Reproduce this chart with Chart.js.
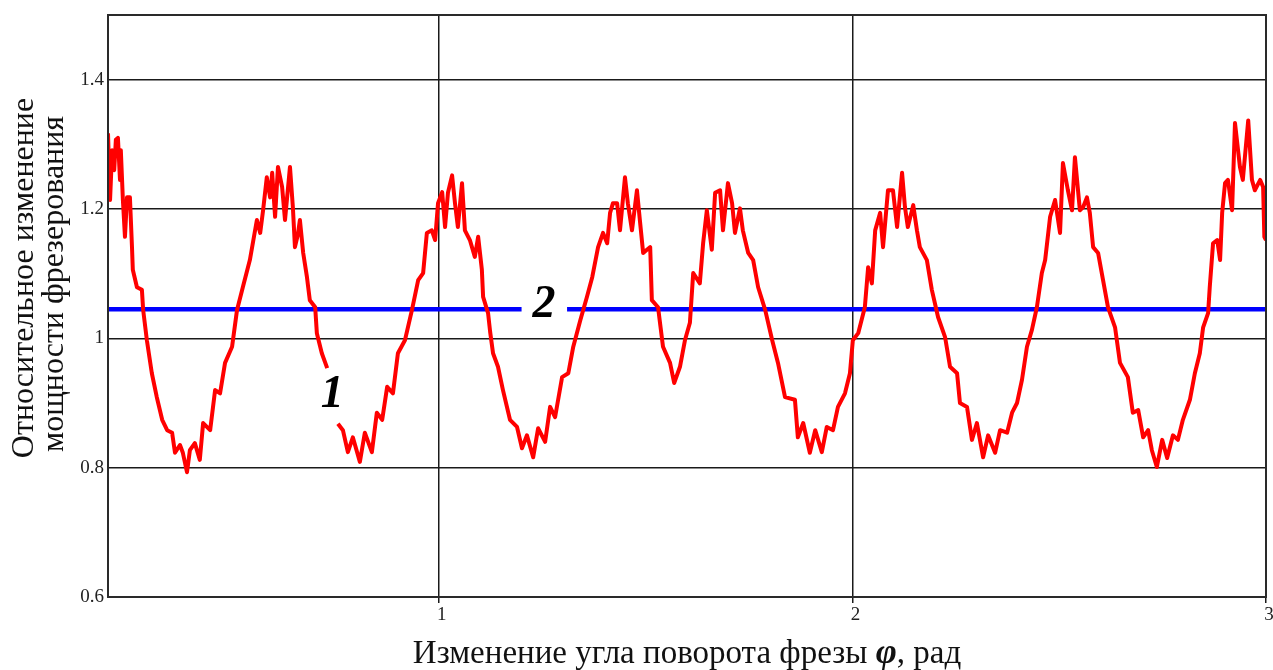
<!DOCTYPE html>
<html lang="ru">
<head>
<meta charset="utf-8">
<title>Относительное изменение мощности фрезерования</title>
<script src="https://cdn.jsdelivr.net/npm/chart.js@4/dist/chart.umd.min.js"></script>
<style>
  html, body { margin: 0; padding: 0; background: #fff; }
  canvas { display: block; }
</style>
</head>
<body>
<canvas id="chart" width="1273" height="670"></canvas>
<script>
// Rotation angle of the cutter, rad
const angle = [
  0.200, 0.205, 0.210, 0.215, 0.219, 0.224, 0.229, 0.231, 0.236, 0.241,
  0.246, 0.253, 0.258, 0.260, 0.270, 0.282, 0.285, 0.294, 0.306, 0.318,
  0.331, 0.343, 0.355, 0.362, 0.374, 0.381, 0.391, 0.398, 0.410, 0.422,
  0.430, 0.447, 0.459, 0.471, 0.483, 0.500, 0.512, 0.526, 0.543, 0.560,
  0.568, 0.575, 0.584, 0.592, 0.597, 0.604, 0.611, 0.621, 0.628, 0.640,
  0.647, 0.652, 0.659, 0.664, 0.672, 0.681, 0.688, 0.701, 0.705, 0.717,
  0.730, 0.743, 0.756, 0.768, 0.780, 0.792, 0.809, 0.821, 0.838, 0.850,
  0.863, 0.875, 0.889, 0.901, 0.918, 0.935, 0.950, 0.962, 0.971, 0.983,
  0.991, 0.998, 1.008, 1.015, 1.022, 1.032, 1.039, 1.046, 1.056, 1.063,
  1.075, 1.087, 1.095, 1.104, 1.107, 1.119, 1.124, 1.131, 1.143, 1.155,
  1.172, 1.189, 1.201, 1.213, 1.228, 1.240, 1.257, 1.269, 1.281, 1.298,
  1.313, 1.325, 1.342, 1.358, 1.371, 1.385, 1.397, 1.407, 1.414, 1.421,
  1.431, 1.438, 1.450, 1.457, 1.467, 1.479, 1.486, 1.494, 1.503, 1.511,
  1.515, 1.530, 1.542, 1.559, 1.569, 1.583, 1.595, 1.607, 1.615, 1.631,
  1.639, 1.648, 1.660, 1.668, 1.680, 1.687, 1.699, 1.709, 1.716, 1.728,
  1.735, 1.748, 1.760, 1.772, 1.789, 1.806, 1.820, 1.837, 1.861, 1.868,
  1.881, 1.897, 1.910, 1.926, 1.938, 1.953, 1.965, 1.982, 1.994, 2.001,
  2.014, 2.030, 2.038, 2.047, 2.055, 2.067, 2.074, 2.086, 2.098, 2.108,
  2.120, 2.127, 2.134, 2.147, 2.156, 2.163, 2.180, 2.192, 2.207, 2.224,
  2.236, 2.253, 2.260, 2.277, 2.289, 2.301, 2.316, 2.328, 2.345, 2.357,
  2.374, 2.386, 2.398, 2.410, 2.422, 2.434, 2.446, 2.458, 2.466, 2.478,
  2.490, 2.502, 2.509, 2.521, 2.531, 2.538, 2.550, 2.558, 2.567, 2.574,
  2.582, 2.594, 2.606, 2.618, 2.635, 2.647, 2.666, 2.678, 2.691, 2.703,
  2.715, 2.724, 2.736, 2.749, 2.761, 2.775, 2.787, 2.799, 2.816, 2.828,
  2.840, 2.848, 2.860, 2.864, 2.872, 2.882, 2.889, 2.894, 2.901, 2.908,
  2.918, 2.925, 2.937, 2.944, 2.957, 2.966, 2.973, 2.986, 2.993, 2.996,
  3.000
];

// Relative change of milling power (curve 1); null leaves room for its label
const power = [
  1.317, 1.214, 1.291, 1.260, 1.307, 1.310, 1.245, 1.291, 1.214, 1.157,
  1.218, 1.218, 1.141, 1.106, 1.079, 1.075, 1.044, 0.997, 0.946, 0.909,
  0.874, 0.858, 0.854, 0.823, 0.835, 0.823, 0.793, 0.827, 0.838, 0.812,
  0.869, 0.858, 0.920, 0.915, 0.962, 0.987, 1.044, 1.079, 1.121, 1.183,
  1.163, 1.198, 1.249, 1.218, 1.256, 1.188, 1.265, 1.234, 1.183, 1.265,
  1.203, 1.141, 1.160, 1.183, 1.132, 1.095, 1.059, 1.048, 1.008, 0.977,
  0.954, null,  0.868, 0.858, 0.824, 0.847, 0.809, 0.854, 0.824, 0.885,
  0.874, 0.925, 0.915, 0.977, 0.997, 1.044, 1.090, 1.101, 1.163, 1.167,
  1.152, 1.209, 1.226, 1.172, 1.225, 1.252, 1.209, 1.172, 1.240, 1.167,
  1.152, 1.126, 1.157, 1.106, 1.064, 1.039, 1.010, 0.977, 0.956, 0.920,
  0.874, 0.863, 0.830, 0.850, 0.816, 0.861, 0.840, 0.894, 0.878, 0.940,
  0.946, 0.987, 1.028, 1.064, 1.095, 1.141, 1.163, 1.147, 1.194, 1.209,
  1.209, 1.167, 1.249, 1.209, 1.167, 1.229, 1.183, 1.132, 1.137, 1.141,
  1.059, 1.048, 0.987, 0.962, 0.931, 0.956, 0.997, 1.024, 1.101, 1.085,
  1.147, 1.198, 1.137, 1.225, 1.229, 1.167, 1.240, 1.209, 1.163, 1.201,
  1.167, 1.132, 1.121, 1.079, 1.044, 0.997, 0.962, 0.909, 0.905, 0.847,
  0.869, 0.823, 0.858, 0.824, 0.863, 0.858, 0.894, 0.915, 0.946, 0.997,
  1.008, 1.048, 1.110, 1.085, 1.167, 1.194, 1.141, 1.229, 1.229, 1.172,
  1.256, 1.203, 1.172, 1.206, 1.167, 1.141, 1.121, 1.075, 1.033, 1.002,
  0.956, 0.946, 0.900, 0.894, 0.843, 0.869, 0.816, 0.850, 0.823, 0.858,
  0.854, 0.885, 0.900, 0.936, 0.987, 1.013, 1.048, 1.101, 1.121, 1.188,
  1.214, 1.163, 1.271, 1.229, 1.198, 1.280, 1.198, 1.203, 1.218, 1.194,
  1.141, 1.132, 1.090, 1.048, 1.017, 0.962, 0.940, 0.885, 0.889, 0.847,
  0.858, 0.827, 0.801, 0.843, 0.815, 0.850, 0.843, 0.874, 0.905, 0.946,
  0.977, 1.017, 1.039, 1.079, 1.147, 1.152, 1.121, 1.194, 1.240, 1.245,
  1.198, 1.333, 1.265, 1.245, 1.337, 1.245, 1.229, 1.245, 1.234, 1.157,
  1.152
];

// Mean level (line 2), broken where its label sits
const meanAngle = [0.2, 1.20, 1.25, 1.31, 3.0];
const meanPower = [1.045, 1.045, null, 1.045, 1.045];

const xTicks = [1, 2, 3];
const yTicks = [0.6, 0.8, 1, 1.2, 1.4];

const yTitle = ['Относительное изменение', 'мощности фрезерования'];
const xTitleParts = ['Изменение угла поворота фрезы ', 'φ', ', рад'];
const curveLabels = [
  { text: '1', x: 0.742, y: 0.912 },
  { text: '2', x: 1.254, y: 1.051 }
];

const SERIF = '"Liberation Serif", "Times New Roman", serif';

const decor = {
  id: 'decor',
  afterDatasetsDraw(chart) {
    const { ctx, chartArea: a, scales: { x, y } } = chart;
    ctx.save();
    // plot frame
    ctx.strokeStyle = '#2a2a2a';
    ctx.lineWidth = 2;
    ctx.strokeRect(a.left, a.top, a.right - a.left, a.bottom - a.top);
    // curve numbers
    ctx.fillStyle = '#000';
    ctx.font = 'italic bold 46px ' + SERIF;
    ctx.textAlign = 'center';
    ctx.textBaseline = 'middle';
    curveLabels.forEach(l => {
      ctx.fillText(l.text, x.getPixelForValue(l.x), y.getPixelForValue(l.y));
    });
    ctx.restore();
  },
  afterDraw(chart) {
    const { ctx, chartArea: a } = chart;
    ctx.save();
    ctx.fillStyle = '#111';
    // vertical axis title, two rotated lines
    ctx.font = '32px ' + SERIF;
    ctx.textAlign = 'center';
    ctx.textBaseline = 'alphabetic';
    const midY = (a.top + a.bottom) / 2;
    [[33, midY - 28], [63, midY - 22]].forEach((p, i) => {
      ctx.save();
      ctx.translate(p[0], p[1]);
      ctx.rotate(-Math.PI / 2);
      ctx.fillText(yTitle[i], 0, 0);
      ctx.restore();
    });
    // horizontal axis title with a bold italic φ
    const fonts = ['33px ' + SERIF, 'italic bold 36px ' + SERIF, '33px ' + SERIF];
    const widths = xTitleParts.map((t, i) => { ctx.font = fonts[i]; return ctx.measureText(t).width; });
    const total = widths.reduce((s, w) => s + w, 0);
    let cx = (a.left + a.right) / 2 - total / 2;
    ctx.textAlign = 'left';
    xTitleParts.forEach((t, i) => {
      ctx.font = fonts[i];
      ctx.fillText(t, cx, 663);
      cx += widths[i];
    });
    ctx.restore();
  }
};

new Chart(document.getElementById('chart'), {
  type: 'line',
  data: {
    datasets: [
      {
        data: angle.map((a, i) => ({ x: a, y: power[i] })),
        borderColor: '#ff0000',
        borderWidth: 4,
        pointRadius: 0,
        tension: 0,
        borderJoinStyle: 'round',
        spanGaps: false
      },
      {
        data: meanAngle.map((a, i) => ({ x: a, y: meanPower[i] })),
        borderColor: '#0000ff',
        borderWidth: 4.5,
        pointRadius: 0,
        tension: 0,
        spanGaps: false
      }
    ]
  },
  options: {
    responsive: false,
    animation: false,
    devicePixelRatio: 1,
    layout: { padding: { left: 0, top: 15, right: 7, bottom: 0 } },
    plugins: { legend: { display: false }, tooltip: { enabled: false } },
    scales: {
      x: {
        type: 'linear',
        min: 0.2,
        max: 3,
        afterBuildTicks: s => { s.ticks = xTicks.map(v => ({ value: v })); },
        afterFit: s => { s.height = 73; s.paddingLeft = 0; s.paddingRight = 0; },
        grid: { color: '#1a1a1a', lineWidth: 1.5, drawTicks: true, tickLength: 6 },
        border: { display: false },
        ticks: {
          color: '#222',
          font: { family: SERIF, size: 19 },
          padding: 1,
          labelOffset: 3,
          maxRotation: 0,
          callback: v => String(v)
        }
      },
      y: {
        type: 'linear',
        min: 0.6,
        max: 1.5,
        afterBuildTicks: s => { s.ticks = yTicks.map(v => ({ value: v })); },
        afterFit: s => { s.width = 108; s.paddingTop = 0; s.paddingBottom = 0; },
        grid: { color: '#1a1a1a', lineWidth: 1.5, drawTicks: false },
        border: { display: false },
        ticks: {
          color: '#222',
          font: { family: SERIF, size: 19 },
          padding: 4,
          callback: v => String(v)
        }
      }
    }
  },
  plugins: [decor]
});
</script>
</body>
</html>
